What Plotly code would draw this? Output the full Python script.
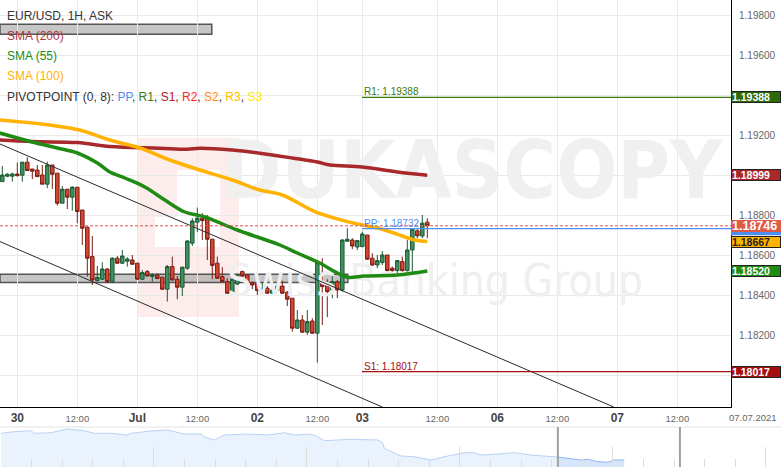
import plotly.graph_objects as go

# ---------------- data ----------------
hours = list(range(86))
candle_open = [1.18967, 1.18994, 1.18994, 1.19005, 1.18999, 1.19064, 1.19030, 1.19025, 1.19000, 1.18954,
               1.19050, 1.19009, 1.18859, 1.18929, 1.18889, 1.18939, 1.18825, 1.18739, 1.18592, 1.18472,
               1.18479, 1.18530, 1.18467, 1.18584, 1.18559, 1.18569, 1.18575, 1.18559, 1.18479, 1.18517,
               1.18492, 1.18499, 1.18489, 1.18429, 1.18542, 1.18479, 1.18439, 1.18534, 1.18659, 1.18764,
               1.18784, 1.18779, 1.18679, 1.18559, 1.18492, 1.18467, 1.18404, 1.18455, 1.18517, 1.18500,
               1.18462, 1.18459, 1.18420, 1.18434, 1.18409, 1.18422, 1.18445, 1.18414, 1.18384, 1.18234,
               1.18275, 1.18214, 1.18270, 1.18209, 1.18467, 1.18450, 1.18425, 1.18467, 1.18425, 1.18669,
               1.18675, 1.18640, 1.18642, 1.18700, 1.18584, 1.18550, 1.18562, 1.18600, 1.18534, 1.18522,
               1.18567, 1.18522, 1.18625, 1.18721, 1.18695, 1.18764]
candle_high = [1.19045, 1.19009, 1.19012, 1.19062, 1.19064, 1.19089, 1.19030, 1.19050, 1.19050, 1.19067,
               1.19050, 1.19009, 1.18945, 1.18929, 1.18945, 1.18939, 1.18825, 1.18742, 1.18695, 1.18545,
               1.18564, 1.18534, 1.18589, 1.18595, 1.18625, 1.18589, 1.18600, 1.18559, 1.18525, 1.18525,
               1.18509, 1.18509, 1.18489, 1.18550, 1.18592, 1.18495, 1.18542, 1.18675, 1.18784, 1.18837,
               1.18809, 1.18800, 1.18679, 1.18592, 1.18539, 1.18484, 1.18484, 1.18504, 1.18522, 1.18500,
               1.18467, 1.18467, 1.18462, 1.18445, 1.18429, 1.18459, 1.18472, 1.18420, 1.18384, 1.18325,
               1.18300, 1.18325, 1.18284, 1.18572, 1.18584, 1.18479, 1.18495, 1.18475, 1.18679, 1.18734,
               1.18684, 1.18675, 1.18717, 1.18700, 1.18609, 1.18600, 1.18620, 1.18600, 1.18542, 1.18575,
               1.18592, 1.18675, 1.18729, 1.18729, 1.18800, 1.18784]
candle_low = [1.18967, 1.18989, 1.18967, 1.18992, 1.18967, 1.19022, 1.18979, 1.18992, 1.18954, 1.18934,
              1.18930, 1.18847, 1.18859, 1.18830, 1.18822, 1.18759, 1.18650, 1.18492, 1.18450, 1.18467,
              1.18475, 1.18459, 1.18459, 1.18555, 1.18555, 1.18542, 1.18550, 1.18475, 1.18475, 1.18492,
              1.18467, 1.18482, 1.18425, 1.18367, 1.18472, 1.18379, 1.18395, 1.18525, 1.18645, 1.18714,
              1.18675, 1.18575, 1.18479, 1.18480, 1.18464, 1.18405, 1.18400, 1.18450, 1.18492, 1.18422,
              1.18429, 1.18400, 1.18412, 1.18405, 1.18405, 1.18420, 1.18405, 1.18345, 1.18217, 1.18230,
              1.18212, 1.18200, 1.18205, 1.18062, 1.18250, 1.18289, 1.18384, 1.18384, 1.18417, 1.18667,
              1.18629, 1.18625, 1.18639, 1.18575, 1.18545, 1.18534, 1.18550, 1.18517, 1.18517, 1.18509,
              1.18517, 1.18517, 1.18511, 1.18684, 1.18684, 1.18684]
candle_close = [1.19000, 1.19004, 1.19005, 1.18997, 1.19064, 1.19022, 1.19019, 1.18992, 1.18954, 1.19050,
                1.19004, 1.18859, 1.18929, 1.18889, 1.18939, 1.18817, 1.18734, 1.18584, 1.18475, 1.18487,
                1.18530, 1.18467, 1.18584, 1.18559, 1.18595, 1.18580, 1.18554, 1.18479, 1.18512, 1.18495,
                1.18500, 1.18482, 1.18429, 1.18542, 1.18475, 1.18439, 1.18539, 1.18670, 1.18770, 1.18784,
                1.18772, 1.18679, 1.18548, 1.18484, 1.18467, 1.18409, 1.18479, 1.18500, 1.18495, 1.18462,
                1.18450, 1.18422, 1.18434, 1.18409, 1.18425, 1.18445, 1.18409, 1.18379, 1.18234, 1.18275,
                1.18214, 1.18267, 1.18209, 1.18562, 1.18442, 1.18417, 1.18467, 1.18425, 1.18675, 1.18679,
                1.18645, 1.18672, 1.18705, 1.18579, 1.18550, 1.18572, 1.18600, 1.18522, 1.18522, 1.18572,
                1.18522, 1.18625, 1.18729, 1.18696, 1.18759, 1.18746]

sma200_x = [-0.5, 6, 15, 21.5, 31.5, 37, 39.5, 46, 51.5, 58, 63, 65.5, 72, 79, 85]
sma200_y = [1.19175, 1.19167, 1.19162, 1.19142, 1.19134, 1.19129, 1.19134, 1.19125, 1.19109, 1.19085,
            1.19065, 1.19050, 1.19040, 1.19015, 1.18999]
sma100_x = [-0.5, 9.5, 15.5, 21.5, 27.5, 33.5, 39.5, 46, 51.5, 56, 62.5, 69, 76, 82.5, 85]
sma100_y = [1.19275, 1.19250, 1.19225, 1.19175, 1.19135, 1.19075, 1.19025, 1.18975, 1.18925, 1.18900,
            1.18817, 1.18767, 1.18729, 1.18675, 1.18667]
sma55_x = [-0.5, 6, 11, 15, 19, 21.5, 24.5, 28.5, 32.5, 36.5, 40.5, 47, 55.5, 59, 63.5, 66.5, 69, 72.5, 79, 85]
sma55_y = [1.19210, 1.19165, 1.19135, 1.19110, 1.19060, 1.19015, 1.18985, 1.18940, 1.18875, 1.18815,
           1.18790, 1.18725, 1.18650, 1.18610, 1.18560, 1.18517, 1.18489, 1.18495, 1.18500, 1.18520]

pivot_start = 72
pivot_names = ["R1", "PP", "S1"]
pivot_values = [1.19388, 1.18732, 1.18017]
last_price = 1.18746

channel_upper = ([-0.46, 122.3], [1.19155, 1.17840])
channel_lower = ([-0.46, 76.0], [1.18667, 1.17840])
zone_box = ([-0.46, 69.1], [1.18462, 1.18504])
top_box = ([-0.46, 41.9], [1.19704, 1.19754])

tick_hours = [3, 15, 27, 39, 51, 63, 72, 87, 99, 111, 123, 135]
tick_labels = ["30", "12:00", "Jul", "12:00", "02", "12:00", "03", "12:00", "06", "12:00", "07", "12:00"]
price_ticks = [1.180, 1.182, 1.184, 1.186, 1.188, 1.190, 1.192, 1.194, 1.196, 1.198]
hidden_price_ticks = [1.180, 1.190, 1.194]   # covered by the value boxes in the original
date_label = "07.07.2021"

nav_day = [0.0, 0.43, 0.98, 1.09, 1.63, 2.18, 2.72, 3.05, 3.59, 4.14, 4.25, 4.90, 5.45, 5.99, 6.54, 6.64,
           6.97, 7.30, 8.06, 8.72, 9.26, 9.59, 10.13, 10.35, 10.57, 11.44, 12.31, 12.47, 12.53, 12.75,
           13.07, 13.51, 14.05, 14.60, 15.14, 15.47, 15.69, 16.23, 16.77, 17.32, 18.08, 18.20]
nav_price = [1.22005, 1.22245, 1.22395, 1.22005, 1.22095, 1.22650, 1.22395, 1.22005, 1.22005, 1.21750,
             1.22005, 1.22350, 1.22500, 1.21900, 1.21900, 1.21495, 1.21000, 1.21750, 1.21900, 1.21750,
             1.22095, 1.21750, 1.21900, 1.21495, 1.20895, 1.21105, 1.21000, 1.20595, 1.19755, 1.19245,
             1.18600, 1.18495, 1.18000, 1.18600, 1.19095, 1.19095, 1.18750, 1.18900, 1.19095, 1.18750,
             1.18495, 1.18450]
nav_sel_day = [18.20, 18.30, 18.95, 19.17, 19.50, 19.83, 20.04, 20.37]
nav_sel_price = [1.18450, 1.18405, 1.18000, 1.18105, 1.17745, 1.17655, 1.18000, 1.18000]
nav_window = [18.2, 22.19]

# ---------------- geometry / style ----------------
W, H = 781, 467
PLOT_R, PLOT_B, NAV_T = 731, 407, 427
PX_PER_HOUR = 5.0
X_LO = -2.3 / PX_PER_HOUR
X_HI = X_LO + PLOT_R / PX_PER_HOUR
Y_LO, Y_HI = 1.17840, 1.19875
FONT = "Liberation Sans, Arial, sans-serif"

UP_FILL, UP_LINE = "#3f9161", "#1d5a33"
DN_FILL, DN_LINE = "#d5452f", "#7b1d16"
C200, C55, C100 = "#a8282c", "#1f8b14", "#ffb300"
PIV_COL = {"R1": "#3c7a0c", "PP": "#4d8ff0", "S1": "#a30f0f"}

fig = go.Figure()

# watermark (behind everything)
def fx(f):
    return X_LO + f * (X_HI - X_LO)

def fy(f):
    return Y_LO + f * (Y_HI - Y_LO)

fig.add_trace(go.Scatter(
    x=[fx(472 / 731), fx(435 / 731)],
    y=[fy(1 - 178 / 407), fy(1 - 285 / 407)],
    mode="text",
    text=["<b>DUKASCOPY</b>", "Swiss Banking Group"],
    textfont=dict(family="Liberation Sans Narrow, DejaVu Sans Condensed, Arial Narrow, Liberation Sans, sans-serif",
                  size=[80, 44], color=["#f0f0f0", "#efefef"]),
    hoverinfo="skip", showlegend=False))

fig.add_trace(go.Scatter(x=sma200_x, y=sma200_y, mode="lines", line=dict(color=C200, width=3.5, shape="spline"),
                         hoverinfo="skip"))
fig.add_trace(go.Scatter(x=sma100_x, y=sma100_y, mode="lines", line=dict(color=C100, width=3.5, shape="spline"),
                         hoverinfo="skip"))
fig.add_trace(go.Scatter(x=sma55_x, y=sma55_y, mode="lines", line=dict(color=C55, width=3.5, shape="spline"),
                         hoverinfo="skip"))

fig.add_trace(go.Candlestick(
    x=hours, open=candle_open, high=candle_high, low=candle_low, close=candle_close,
    increasing=dict(fillcolor=UP_FILL, line=dict(color=UP_LINE, width=1)),
    decreasing=dict(fillcolor=DN_FILL, line=dict(color=DN_LINE, width=1)),
    whiskerwidth=0, hoverinfo="skip"))

# navigator
fig.add_trace(go.Scatter(x=nav_day, y=nav_price, mode="lines", fill="tozeroy",
                         line=dict(color="#b9d2f3", width=1), fillcolor="#eaf2fd",
                         xaxis="x2", yaxis="y2", hoverinfo="skip"))
fig.add_trace(go.Scatter(x=nav_sel_day, y=nav_sel_price, mode="lines", fill="tozeroy",
                         line=dict(color="#8fb5ea", width=1), fillcolor="#d6e5fa",
                         xaxis="x2", yaxis="y2", hoverinfo="skip"))

shapes = []
# logo block of watermark
shapes.append(dict(type="rect", xref="paper", yref="paper", layer="below",
                   x0=137 / W, x1=239 / W, y0=1 - 317 / H, y1=1 - 138 / H,
                   fillcolor="#fcecec", line=dict(width=0)))
shapes.append(dict(type="rect", xref="paper", yref="paper", layer="below",
                   x0=177 / W, x1=220 / W, y0=1 - 247 / H, y1=1 - 170 / H,
                   fillcolor="white", line=dict(width=0)))
shapes.append(dict(type="rect", xref="paper", yref="paper", layer="below",
                   x0=155 / W, x1=220 / W, y0=1 - 247 / H, y1=1 - 217 / H,
                   fillcolor="white", line=dict(width=0)))
# grey boxes
for (bx, by) in (zone_box, top_box):
    shapes.append(dict(type="rect", xref="x", yref="y", x0=bx[0], x1=bx[1], y0=by[0], y1=by[1],
                       fillcolor="rgba(160,160,160,0.6)", line=dict(color="#555555", width=1.5), layer="below"))
# channel lines
for (cx, cy) in (channel_upper, channel_lower):
    shapes.append(dict(type="line", xref="x", yref="y", x0=cx[0], x1=cx[1], y0=cy[0], y1=cy[1],
                       line=dict(color="#2b2b2b", width=1)))
# current price dashed line
shapes.append(dict(type="line", xref="x domain", yref="y", x0=0, x1=1, y0=last_price, y1=last_price,
                   line=dict(color="#d9534f", width=1, dash="3px,2px")))
# pivot lines
for name, val in zip(pivot_names, pivot_values):
    shapes.append(dict(type="line", xref="x", yref="y", x0=pivot_start - 0.05, x1=X_HI, y0=val, y1=val,
                       line=dict(color=PIV_COL[name], width=1.2)))
# PP axis marker, mostly hidden behind the last-price box
pp = pivot_values[1]
shapes.append(dict(type="rect", xref="paper", yref="y", x0=PLOT_R / W, x1=1, y0=pp - 0.00033, y1=pp + 0.0003,
                   fillcolor=PIV_COL["PP"], line=dict(width=0)))
# navigator top line and handles
shapes.append(dict(type="line", xref="paper", yref="paper", x0=0, x1=1, y0=1 - NAV_T / H, y1=1 - NAV_T / H,
                   line=dict(color="#e3e3e3", width=1)))
for d in nav_window:
    shapes.append(dict(type="line", xref="x2", yref="paper", x0=d, x1=d, y0=0, y1=1 - NAV_T / H,
                       line=dict(color="#a0a0a0", width=2)))

annotations = []
legend_rows = [
    ("EUR/USD, 1H, ASK", "#333333"),
    ("SMA (200)", "#b0353a"),
    ("SMA (55)", "#1f8b14"),
    ("SMA (100)", "#ffb300"),
    ("PIVOTPOINT (0, 8): <span style='color:#4d8ff0'>PP</span>, <span style='color:#3c7a0c'>R1</span>, "
     "<span style='color:#b01c1c'>S1</span>, <span style='color:#ff2a2a'>R2</span>, "
     "<span style='color:#ff8a1a'>S2</span>, <span style='color:#ffc000'>R3</span>, "
     "<span style='color:#ffe600'>S3</span>", "#333333"),
]
for i, (txt, col) in enumerate(legend_rows):
    annotations.append(dict(xref="paper", yref="paper", x=5 / W, y=1 - (15.5 + 20.3 * i) / H,
                            xanchor="left", yanchor="middle", text=txt, showarrow=False,
                            font=dict(family=FONT, size=12, color=col)))

# pivot labels on chart
for name, val in zip(pivot_names, pivot_values):
    annotations.append(dict(xref="x", yref="y", x=pivot_start, y=val, xanchor="left", yanchor="bottom",
                            text=f"{name}: {val:.5f}", showarrow=False, yshift=-2,
                            font=dict(family=FONT, size=10, color=PIV_COL[name])))

# right-axis value boxes
def value_box(val, bg, fg="white", size=10.5, h=10, border="#222222"):
    annotations.append(dict(xref="paper", yref="y", x=PLOT_R / W, y=val, xanchor="left", yanchor="middle",
                            text=f"<b>{val:.5f}</b>", showarrow=False, align="left",
                            width=48, height=h, borderpad=0, bgcolor=bg, bordercolor=border, borderwidth=1,
                            font=dict(family=FONT, size=size, color=fg)))

value_box(pivot_values[0], "#2c6a08")
value_box(sma200_y[-1], "#a8282c")
value_box(last_price, "#e05a48", size=12.5, h=10, border="#e05a48")
value_box(sma100_y[-1], "#ffb300", fg="#222222")
value_box(sma55_y[-1], "#1f8b14")
value_box(pivot_values[2], "#a30f0f")

annotations.append(dict(xref="paper", yref="paper", x=753 / W, y=1 - 417 / H, xanchor="center", yanchor="middle",
                        text=date_label, showarrow=False, font=dict(family=FONT, size=9.5, color="#666666")))

styled_ticks = []
for t in tick_labels:
    if ":" in t:
        styled_ticks.append(f"<span style='font-size:9.5px;color:#666666'>{t}</span>")
    else:
        styled_ticks.append(f"<b>{t}</b>")

price_tick_text = ["" if v in hidden_price_ticks else f"{v:.5f}" for v in price_ticks]

fig.update_layout(
    width=W, height=H, margin=dict(l=0, r=0, t=0, b=0), template="none",
    paper_bgcolor="white", plot_bgcolor="white", showlegend=False,
    font=dict(family=FONT, size=12, color="#444444"),
    boxgap=0.3, boxgroupgap=0.0,
    shapes=shapes, annotations=annotations,
    xaxis=dict(domain=[0, PLOT_R / W], range=[X_LO, X_HI], anchor="y",
               tickmode="array", tickvals=tick_hours, ticktext=styled_ticks,
               tickfont=dict(family=FONT, size=12, color="#444444"),
               showgrid=True, gridcolor="#e9e9e9", gridwidth=1, zeroline=False,
               showline=True, linecolor="#000000", linewidth=1, ticks="",
               rangeslider=dict(visible=False), fixedrange=True, automargin=False),
    yaxis=dict(domain=[1 - PLOT_B / H, 1], range=[Y_LO, Y_HI], side="right", anchor="x",
               tickmode="array", tickvals=price_ticks, ticktext=price_tick_text,
               tickfont=dict(family=FONT, size=10, color="#666666"),
               showgrid=True, gridcolor="#e9e9e9", zeroline=False,
               showline=True, linecolor="#000000", linewidth=1, ticks="",
               ticklabelstandoff=5, fixedrange=True, automargin=False),
    xaxis2=dict(domain=[0, 1], range=[-0.03, W / 30.6 - 0.03], anchor="y2",
                showticklabels=False, showgrid=False, zeroline=False, showline=False,
                ticks="inside", ticklen=20, tickcolor="#dddddd", tickwidth=1, dtick=5, tick0=0,
                minor=dict(ticks="inside", ticklen=8, tickcolor="#dddddd", dtick=1, showgrid=False),
                fixedrange=True, automargin=False),
    yaxis2=dict(domain=[0, (H - NAV_T) / H], range=[1.1695, 1.2295], anchor="x2",
                visible=False, fixedrange=True),
)

fig.write_html("out.html", config={"displayModeBar": False},
               post_script="document.body.style.margin='0px';")
